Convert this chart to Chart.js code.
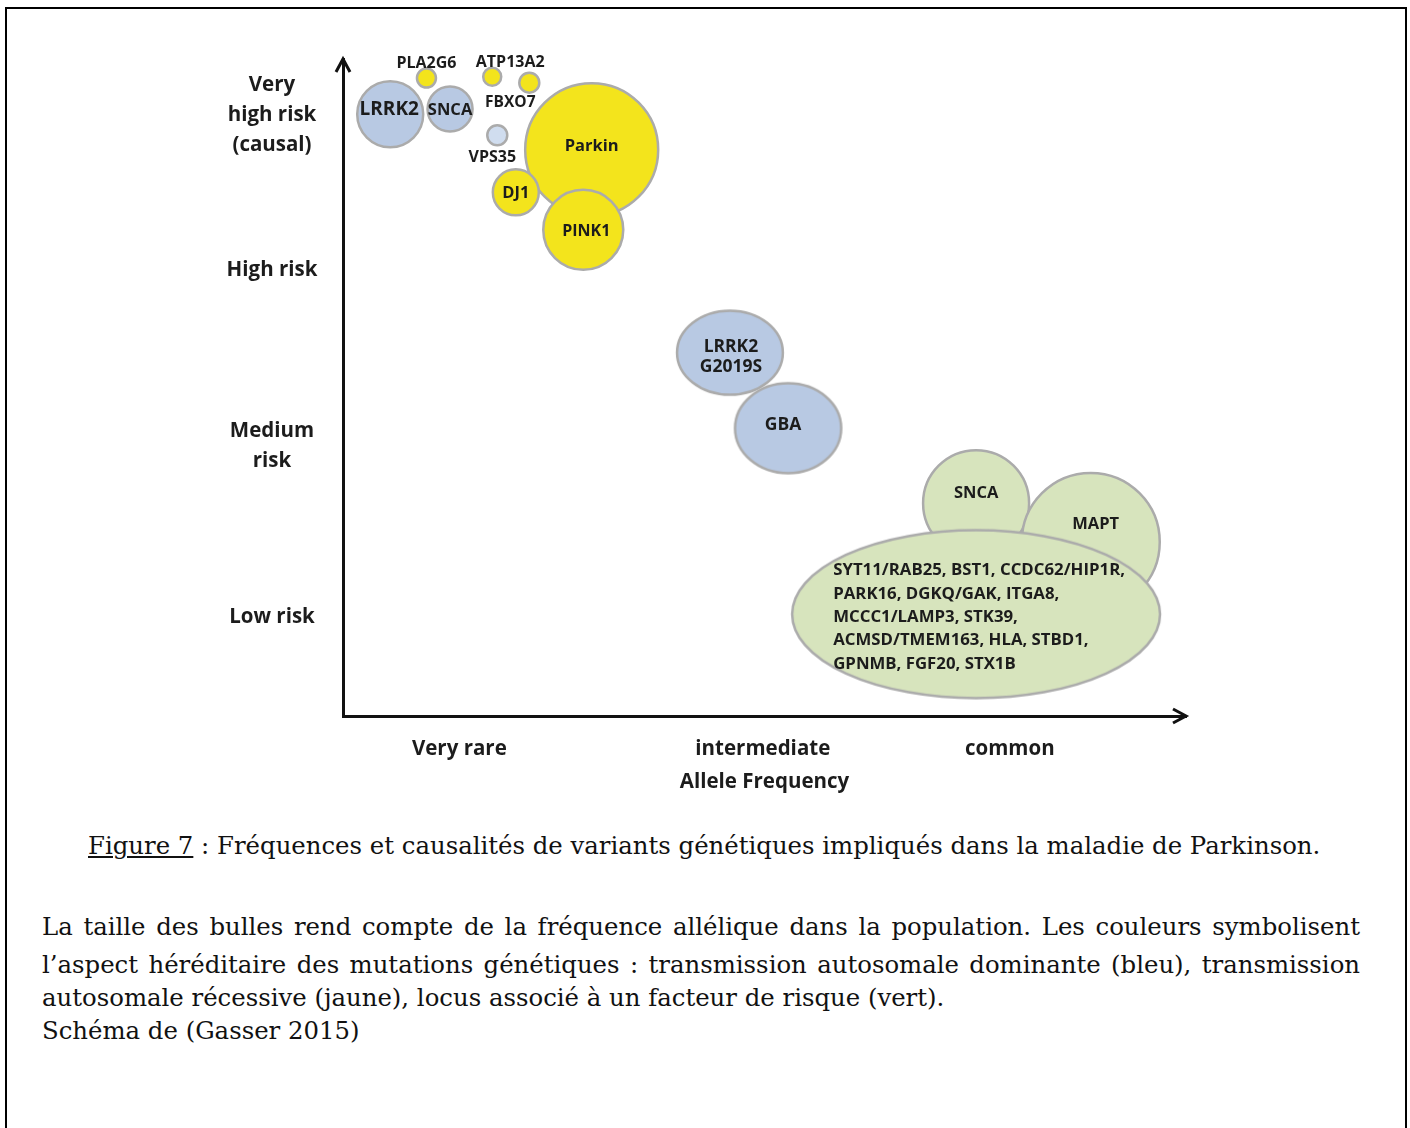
<!DOCTYPE html>
<html><head><meta charset="utf-8">
<script src="https://cdn.jsdelivr.net/npm/chart.js@4.4.1/dist/chart.umd.min.js"></script>
<style>
html,body{margin:0;padding:0;background:#fff;}
body{width:1410px;height:1128px;position:relative;overflow:hidden;}
#frame{position:absolute;left:5px;top:7px;width:1402px;height:1140px;border:2px solid #000;box-sizing:border-box;}
#wrap{position:absolute;left:0;top:0;width:1410px;height:820px;}
.cap{position:absolute;font-family:'DejaVu Serif',serif;color:#111;white-space:nowrap;line-height:30px;}
.just{text-align:justify;text-align-last:justify;}
</style></head>
<body>
<div id="frame"></div>
<div id="wrap"><canvas id="c" width="1410" height="820"></canvas></div>
<div class="cap" id="title" style="left:88px;top:831px;"><span style="text-decoration:underline">Figure 7</span> : Fréquences et causalités de variants génétiques impliqués dans la maladie de Parkinson.</div>
<div class="cap just" id="p1" style="left:42px;top:912px;width:1318px;">La taille des bulles rend compte de la fréquence allélique dans la population. Les couleurs symbolisent</div>
<div class="cap just" id="p2" style="left:42px;top:950px;width:1318px;">l’aspect héréditaire des mutations génétiques : transmission autosomale dominante (bleu), transmission</div>
<div class="cap" id="p3" style="left:42px;top:983px;">autosomale récessive (jaune), locus associé à un facteur de risque (vert).</div>
<div class="cap" id="p4" style="left:42px;top:1016px;">Schéma de (Gasser 2015)</div>
<script>
// ---------------- DATA ----------------
const yTickValues = [15.1, 41.1, 67.9, 91.5];
const yTickLabels = [['Low risk'], ['Medium', 'risk'], ['High risk'], ['Very', 'high risk', '(causal)']];
const xTickValues = [13.8, 49.8, 79.1];
const xTickLabels = ['Very rare', 'intermediate', 'common'];
const xAxisTitle = 'Allele Frequency';

// autosomal dominant (blue)
const dominantGenes = ['LRRK2', 'SNCA', 'VPS35', 'LRRK2\nG2019S', 'GBA'];
const dominantX = [5.6, 12.7, 18.3, 45.9, 52.8];
const dominantY = [91.6, 92.4, 88.4, 55.3, 43.8];
const dominantSize = [33, 22.5, 10, 42, 45];

// autosomal recessive (yellow)
const recessiveGenes = ['PLA2G6', 'ATP13A2', 'FBXO7', 'Parkin', 'DJ1', 'PINK1'];
const recessiveX = [9.9, 17.7, 22.1, 29.5, 20.5, 28.5];
const recessiveY = [97.1, 97.3, 96.4, 86.2, 79.7, 74.0];
const recessiveSize = [9.5, 9, 10, 66.5, 23, 40];

// risk-factor loci (green)
const riskGenes = ['SNCA', 'MAPT',
  'SYT11/RAB25, BST1, CCDC62/HIP1R,\nPARK16, DGKQ/GAK, ITGA8,\nMCCC1/LAMP3, STK39,\nACMSD/TMEM163, HLA, STBD1,\nGPNMB, FGF20, STX1B'];
const riskX = [75.1, 88.7, 75.1];
const riskY = [32.4, 26.5, 15.5];
const riskSize = [53, 69, 84];

// ---------------- STYLE ----------------
const BORDER = '#ababab';
const TEXT = '#1c1c1c';
const FAMILY = "'Open Sans'";
const styles = {
  dominant: { fill: ['#b8c9e3', '#b8c9e3', '#d0ddef', '#b8c9e3', '#b8c9e3'], stretch: [1, 1, 1, 1.26, 1.18],
    shift: [[-1, -5], [0, 1], [-5, 22], [1, 4], [-5, -3]], font: [19, 16.5, 16, 17.5, 17.5] },
  recessive: { fill: '#f3e41c', stretch: [1, 1, 1, 1, 1, 1],
    shift: [[0, -15], [18, -14], [-19, 20], [0, -3], [0, 1], [3, 2]], font: [16, 16, 15.5, 16.5, 16.5, 16] },
  risk: { fill: '#d7e4bd', stretch: [1, 1, 2.19], shift: [[0, -10], [5, -18], [3, 3]], font: [16.5, 16.5, 16], block: [false, false, 292] }
};

function pts(xs, ys, rs) { return xs.map((x, i) => ({ x: x, y: ys[i], r: rs[i] })); }

const canvasCache = {};
function ellipseCanvas(rx, ry, fill) {
  const key = rx + '_' + ry + '_' + fill;
  if (canvasCache[key]) return canvasCache[key];
  const lw = 2.5;
  const c = document.createElement('canvas');
  c.width = Math.round(2 * rx + lw + 4);
  c.height = Math.round(2 * ry + lw + 4);
  const g = c.getContext('2d');
  g.beginPath();
  g.ellipse(c.width / 2, c.height / 2, rx, ry, 0, 0, Math.PI * 2);
  g.fillStyle = fill; g.fill();
  g.lineWidth = lw; g.strokeStyle = BORDER; g.stroke();
  canvasCache[key] = c;
  return c;
}

function makeDataset(name, genes, xs, ys, rs) {
  const st = styles[name];
  const fillAt = i => Array.isArray(st.fill) ? st.fill[i] : st.fill;
  return {
    label: name,
    geneLabels: genes,
    styleKey: name,
    data: pts(xs, ys, rs),
    backgroundColor: ctx => fillAt(ctx.dataIndex),
    borderColor: BORDER,
    borderWidth: 2.5,
    clip: false,
    pointStyle: ctx => {
      const s = st.stretch[ctx.dataIndex];
      if (s === 1) return 'circle';
      const r = ctx.raw.r;
      return ellipseCanvas(r * s, r, fillAt(ctx.dataIndex));
    }
  };
}

// text labels drawn on the bubbles
const labelPlugin = {
  id: 'geneLabels',
  afterDatasetsDraw(chart) {
    const ctx = chart.ctx;
    ctx.save();
    ctx.fillStyle = TEXT;
    ctx.textBaseline = 'middle';
    for (let di = chart.data.datasets.length - 1; di >= 0; di--) {
      const ds = chart.data.datasets[di];
      const st = styles[ds.styleKey];
      const meta = chart.getDatasetMeta(di);
      meta.data.forEach((el, i) => {
        const lines = ds.geneLabels[i].split('\n');
        let fs = st.font[i];
        ctx.font = 'bold ' + fs + 'px ' + FAMILY;
        const blockW = st.block && st.block[i];
        if (blockW) {
          const w0 = Math.max(...lines.map(l => ctx.measureText(l).width));
          fs = fs * blockW / w0;
          ctx.font = 'bold ' + fs.toFixed(2) + 'px ' + FAMILY;
        }
        const lh = lines.length > 2 ? 23.3 : 20;
        const cx = el.x + st.shift[i][0];
        const cy = el.y + st.shift[i][1];
        const y0 = cy - (lines.length - 1) * lh / 2;
        if (blockW) {
          const w = Math.max(...lines.map(l => ctx.measureText(l).width));
          ctx.textAlign = 'left';
          lines.forEach((l, k) => ctx.fillText(l, cx - w / 2, y0 + k * lh));
        } else {
          ctx.textAlign = 'center';
          lines.forEach((l, k) => ctx.fillText(l, cx, y0 + k * lh));
        }
      });
    }
    ctx.restore();
  }
};

// arrow heads on the axes
const arrowPlugin = {
  id: 'arrows',
  afterDraw(chart) {
    const a = chart.chartArea, ctx = chart.ctx;
    ctx.save();
    ctx.strokeStyle = '#111';
    ctx.lineWidth = 3;
    ctx.lineJoin = 'miter';
    ctx.beginPath();
    ctx.moveTo(a.left - 7, a.top + 13); ctx.lineTo(a.left, a.top); ctx.lineTo(a.left + 7, a.top + 13);
    ctx.stroke();
    ctx.beginPath();
    ctx.moveTo(a.right - 13, a.bottom - 7); ctx.lineTo(a.right, a.bottom); ctx.lineTo(a.right - 13, a.bottom + 7);
    ctx.stroke();
    ctx.restore();
  }
};

// centre the y labels around x = 272
const axisFont = { family: FAMILY, size: 20.5, weight: 'bold', lineHeight: 1.46 };
const meas = document.createElement('canvas').getContext('2d');
meas.font = 'bold 20.5px ' + FAMILY;
let widest = 0;
yTickLabels.forEach(ls => ls.forEach(l => { widest = Math.max(widest, meas.measureText(l).width); }));
const yLabelPad = 343 - 272 - widest / 2;

Chart.defaults.font.family = FAMILY;
new Chart(document.getElementById('c'), {
  type: 'bubble',
  data: {
    datasets: [
      makeDataset('dominant', dominantGenes, dominantX, dominantY, dominantSize),
      makeDataset('recessive', recessiveGenes, recessiveX, recessiveY, recessiveSize),
      makeDataset('risk', riskGenes, riskX, riskY, riskSize)
    ]
  },
  options: {
    responsive: false,
    devicePixelRatio: 1,
    animation: false,
    events: [],
    layout: { autoPadding: false, padding: { left: 0, top: 59, right: 224, bottom: 4 } },
    plugins: { legend: { display: false }, tooltip: { enabled: false } },
    scales: {
      x: {
        type: 'linear', min: 0, max: 100,
        grid: { display: false, drawTicks: false },
        border: { display: true, width: 3, color: '#111' },
        afterBuildTicks: s => { s.ticks = xTickValues.map(v => ({ value: v })); },
        afterFit: s => { s.height = 100; s.paddingLeft = 0; s.paddingRight = 0; },
        ticks: { autoSkip: false, maxRotation: 0, padding: 18, color: TEXT, font: axisFont,
          callback: (v, i) => xTickLabels[i] },
        title: { display: true, text: xAxisTitle, color: TEXT, font: axisFont, padding: { top: 0, bottom: 19 } }
      },
      y: {
        type: 'linear', min: 0, max: 100,
        grid: { display: false, drawTicks: false },
        border: { display: true, width: 3, color: '#111' },
        afterBuildTicks: s => { s.ticks = yTickValues.map(v => ({ value: v })); },
        afterFit: s => { s.width = 343; s.paddingTop = 0; s.paddingBottom = 0; },
        ticks: { autoSkip: false, crossAlign: 'center', padding: yLabelPad, color: TEXT, font: axisFont,
          callback: (v, i) => yTickLabels[i] }
      }
    }
  },
  plugins: [labelPlugin, arrowPlugin]
});

// caption sizing: fit the title line to its measured width in the figure
(function () {
  const t = document.getElementById('title');
  t.style.fontSize = '22px';
  const w = t.getBoundingClientRect().width;
  const fs = 22 * 1233 / w;
  document.querySelectorAll('.cap').forEach(e => { e.style.fontSize = fs.toFixed(2) + 'px'; });
})();
</script>
</body></html>
